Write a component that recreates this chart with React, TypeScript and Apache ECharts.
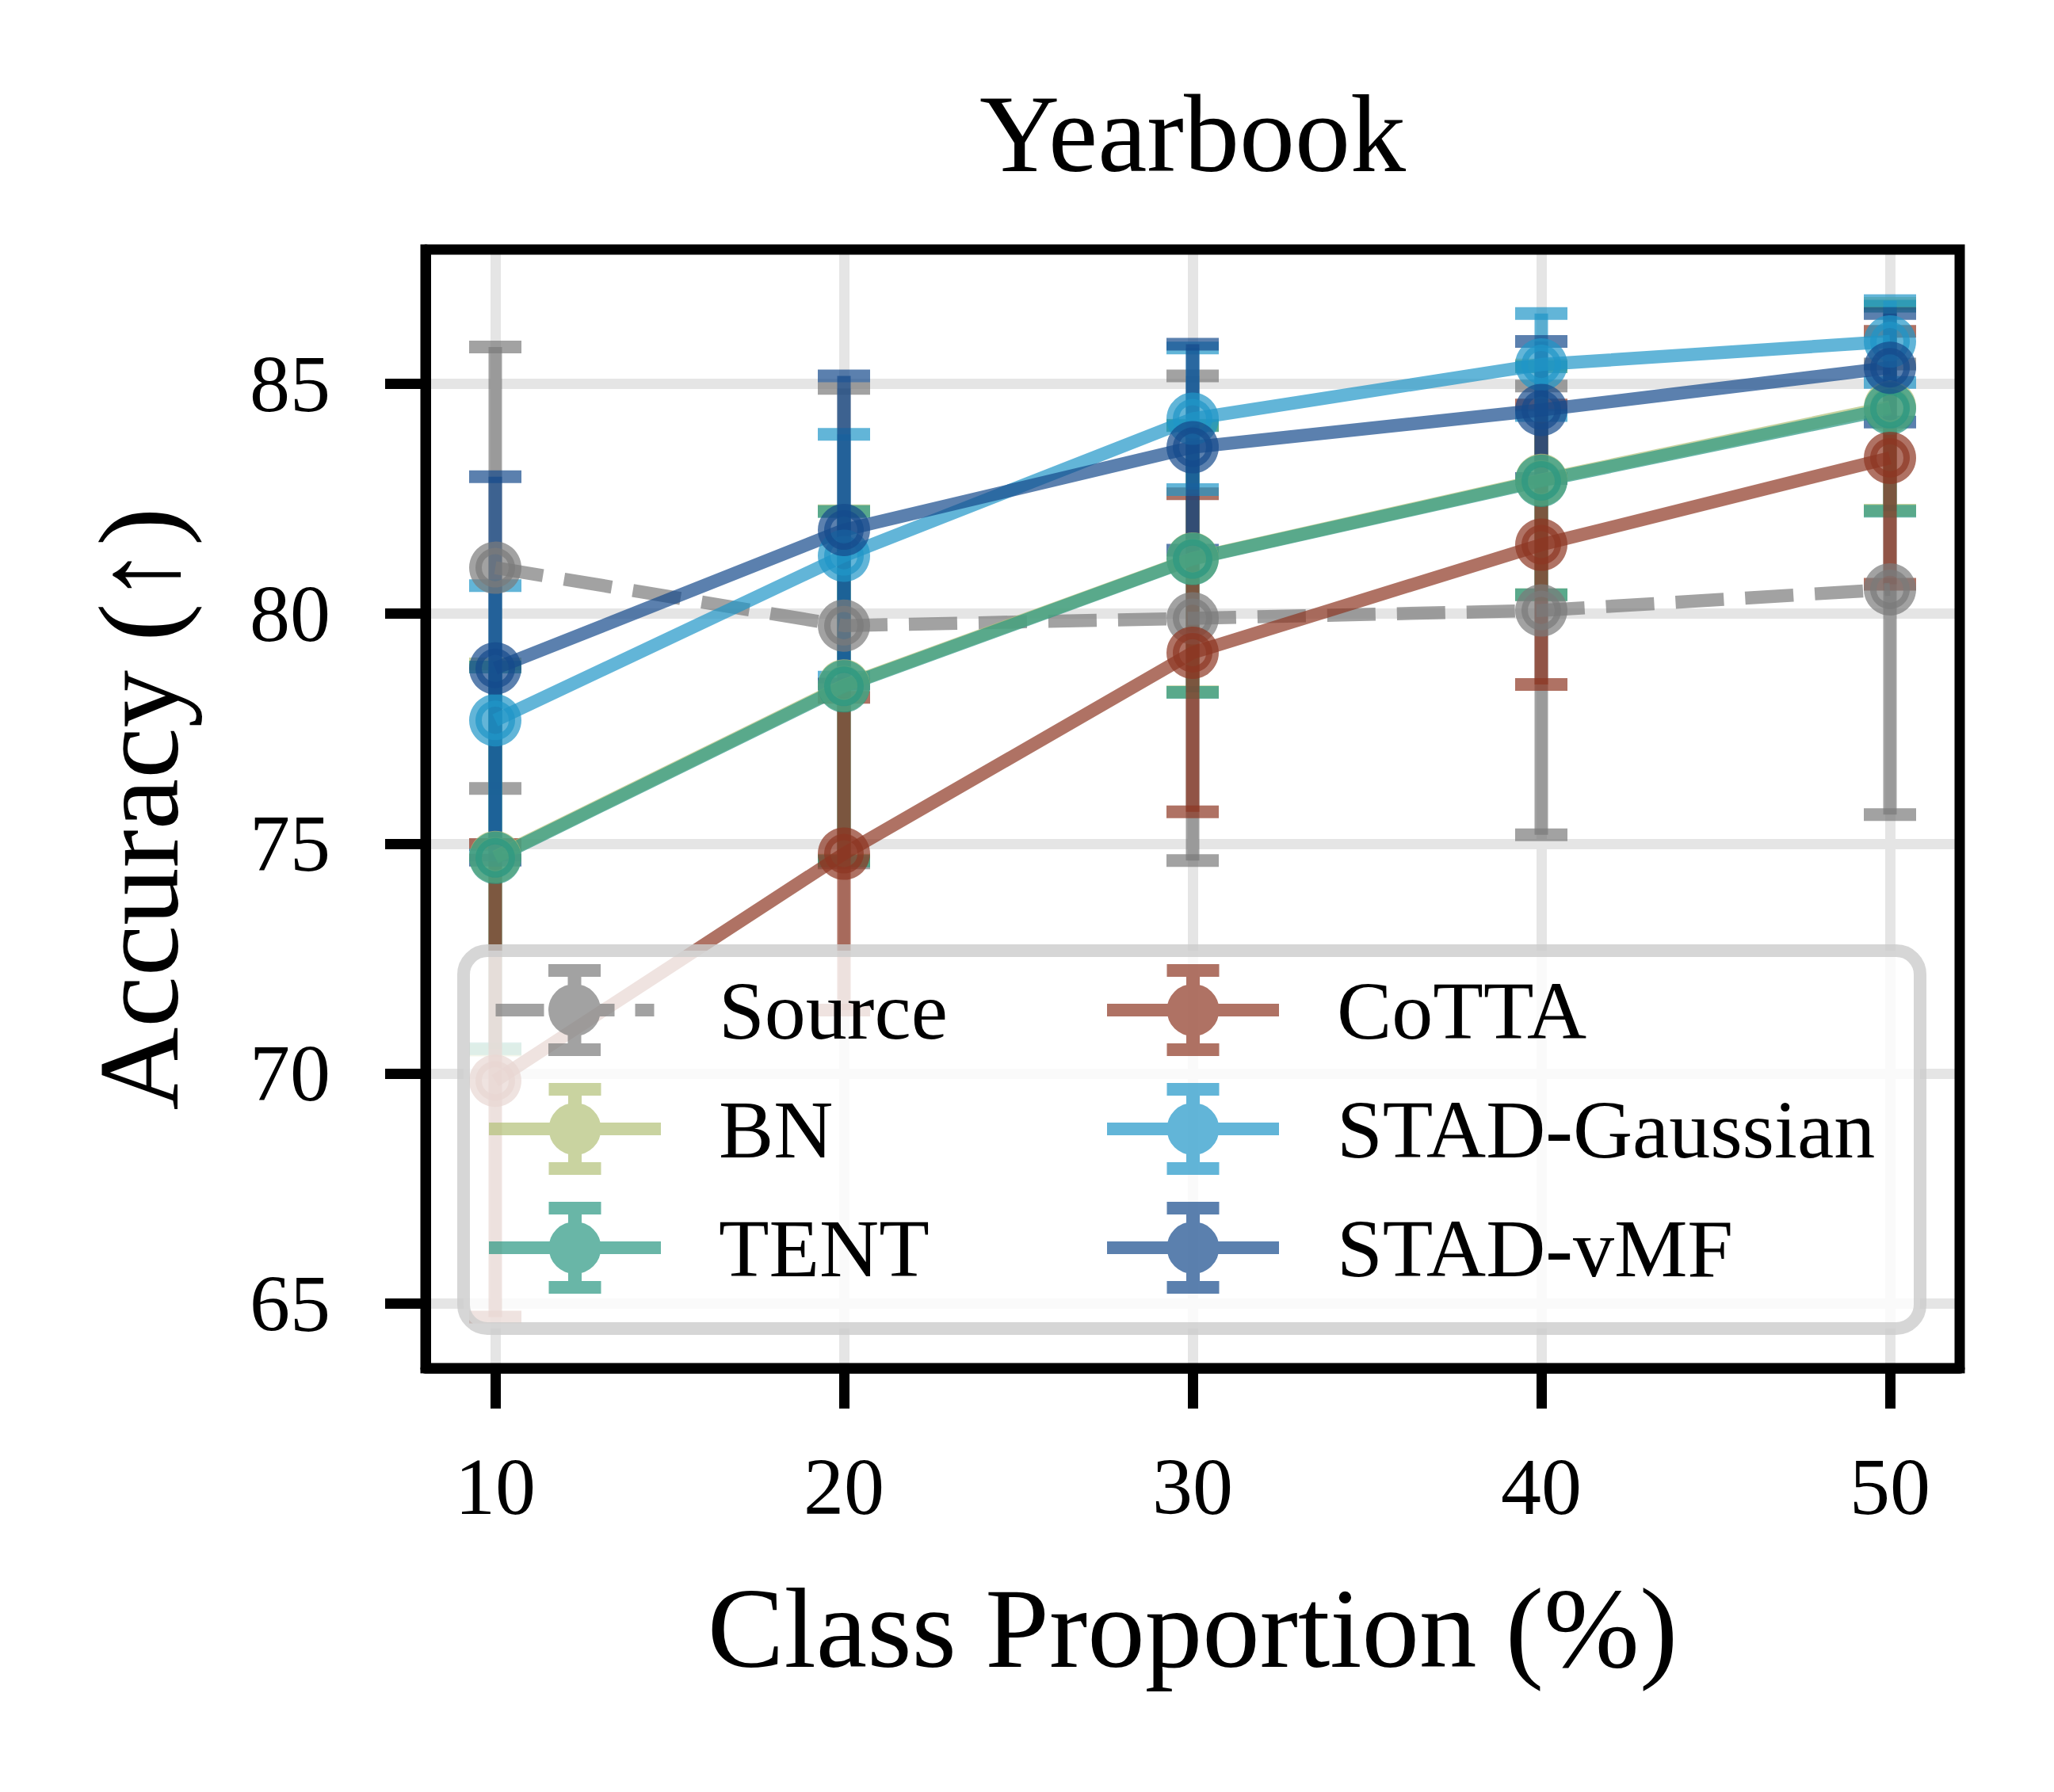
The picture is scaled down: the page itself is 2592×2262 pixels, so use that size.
import React, { useEffect, useRef } from "react";
import * as echarts from "echarts";

// ---------- data ----------
const classProportion = [10, 20, 30, 40, 50];
const xTicks = [10, 20, 30, 40, 50];
const yTicks = [65, 70, 75, 80, 85];
const methodNames = ["Source", "BN", "TENT", "CoTTA", "STAD-Gaussian", "STAD-vMF"];

const sourceMean = [81.0, 79.74, 79.9, 80.07, 80.53];
const sourceStd = [4.8, 5.16, 5.27, 4.88, 4.9];
const bnMean = [74.71, 78.44, 81.2, 82.91, 84.5];
const bnStd = [4.2, 3.8, 2.9, 2.5, 2.25];
const tentMean = [74.69, 78.42, 81.19, 82.89, 84.46];
const tentStd = [4.15, 3.8, 2.9, 2.48, 2.23];
const cottaMean = [69.84, 74.78, 79.15, 81.5, 83.39];
const cottaStd = [5.14, 3.4, 3.46, 3.04, 2.75];
const gaussMean = [77.68, 81.26, 84.24, 85.42, 85.92];
const gaussStd = [2.93, 2.64, 1.54, 1.11, 0.89];
const vmfMean = [78.81, 81.82, 83.62, 84.43, 85.35];
const vmfStd = [4.17, 3.35, 2.24, 1.49, 1.18];

const allMeans = [sourceMean, bnMean, tentMean, cottaMean, gaussMean, vmfMean];
const allStds = [sourceStd, bnStd, tentStd, cottaStd, gaussStd, vmfStd];

// ---------- styles ----------
const baseColors = ["#7a7a7a", "#b2c077", "#2a9781", "#8d3622", "#2095c7", "#154a8b"];
const ALPHA = 0.7;
const FONT = '"Liberation Serif", "DejaVu Serif", serif';

function rgba(hex: string, a: number) {
  const v = parseInt(hex.slice(1), 16);
  return `rgba(${(v >> 16) & 255},${(v >> 8) & 255},${v & 255},${a})`;
}

const circlePath = "M141.5 58 A33 33 0 1 1 75.5 58 A33 33 0 1 1 141.5 58 Z";
const barPath = "M100 8 H117 V108 H100 Z M75.5 0 H141.5 V16 H75.5 Z M75.5 100 H141.5 V116 H75.5 Z";
const solidIcon = "path://M0 50 H217 V66 H0 Z " + barPath + " " + circlePath;
const dashedIcon =
  "path://M9 50 H70 V66 H9 Z M97 50 H159 V66 H97 Z M185 50 H209 V66 H185 Z " + barPath + " " + circlePath;

function buildOption() {
  const series: any[] = [];
  methodNames.forEach((name, i) => {
    const c = rgba(baseColors[i], ALPHA);
    const errData = classProportion.map((x, k) => [x, allMeans[i][k] - allStds[i][k], allMeans[i][k] + allStds[i][k]]);
    series.push({
      type: "custom",
      name: name + " (error)",
      data: errData,
      encode: { x: 0, y: [1, 2] },
      silent: true,
      z: 2,
      renderItem: (params: any, api: any) => {
        const x = api.value(0);
        const pLo = api.coord([x, api.value(1)]);
        const pHi = api.coord([x, api.value(2)]);
        const hw = 33;
        return {
          type: "group",
          children: [
            { type: "line", shape: { x1: pLo[0], y1: pLo[1], x2: pHi[0], y2: pHi[1] }, style: { stroke: c, lineWidth: 17, lineCap: "butt" } },
            { type: "line", shape: { x1: pLo[0] - hw, y1: pLo[1], x2: pLo[0] + hw, y2: pLo[1] }, style: { stroke: c, lineWidth: 16, lineCap: "butt" } },
            { type: "line", shape: { x1: pHi[0] - hw, y1: pHi[1], x2: pHi[0] + hw, y2: pHi[1] }, style: { stroke: c, lineWidth: 16, lineCap: "butt" } },
          ],
        };
      },
    });
    series.push({
      type: "line",
      name,
      data: classProportion.map((x, k) => [x, allMeans[i][k]]),
      symbol: "circle",
      symbolSize: 50,
      showSymbol: true,
      silent: true,
      z: 3,
      lineStyle: { color: c, width: 16.5, type: i === 0 ? [61, 27] : "solid", cap: "butt" },
      itemStyle: { color: c, borderColor: c, borderWidth: 16 },
      emphasis: { disabled: true },
    });
  });

  const legendCommon = {
    orient: "vertical",
    itemWidth: 217,
    itemHeight: 116,
    itemGap: 34,
    padding: 0,
    z: 50,
    selectedMode: false,
    itemStyle: { borderWidth: 0 },
    textStyle: { fontSize: 104, fontFamily: FONT, color: "#000", padding: [0, 0, 0, 68] },
  };
  const legendItem = (name: string) => {
    const i = methodNames.indexOf(name);
    return {
      name,
      icon: i === 0 ? dashedIcon : solidIcon,
      itemStyle: { color: rgba(baseColors[i], ALPHA), borderWidth: 0 },
    };
  };

  return {
    animation: false,
    backgroundColor: "#ffffff",
    title: {
      text: "Yearbook",
      left: 1505,
      top: 98,
      padding: 0,
      textAlign: "center",
      textStyle: { fontSize: 140, fontWeight: "normal", fontFamily: FONT, color: "#000" },
    },
    grid: {
      left: 537,
      right: 119,
      top: 315,
      bottom: 535,
      show: true,
      borderColor: "#000",
      borderWidth: 13,
      backgroundColor: "transparent",
      z: 30,
    },
    xAxis: {
      type: "value",
      min: 8,
      max: 52,
      name: "Class Proportion (%)",
      nameLocation: "middle",
      nameGap: 255,
      nameTextStyle: { fontSize: 145, fontFamily: FONT, color: "#000" },
      axisLine: { show: true, lineStyle: { color: "#000", width: 13 } },
      axisTick: { show: true, customValues: xTicks, length: 51, inside: false, lineStyle: { color: "#000", width: 13 } },
      axisLabel: { customValues: xTicks, margin: 98, fontSize: 102, fontFamily: FONT, color: "#000" },
      splitLine: { show: true, lineStyle: { color: "#e5e5e5", width: 13 } },
    },
    yAxis: {
      type: "value",
      min: 63.59,
      max: 87.92,
      name: "Accuracy (↑)",
      nameLocation: "middle",
      nameRotate: 90,
      nameGap: 290,
      nameTextStyle: { fontSize: 145, fontFamily: FONT, color: "#000" },
      axisLine: { show: true, lineStyle: { color: "#000", width: 13 } },
      axisTick: { show: true, customValues: yTicks, length: 51, inside: false, lineStyle: { color: "#000", width: 13 } },
      axisLabel: { customValues: yTicks, margin: 120, fontSize: 102, fontFamily: FONT, color: "#000" },
      splitLine: { show: true, lineStyle: { color: "#e5e5e5", width: 13 } },
    },
    legend: [
      { ...legendCommon, left: 617, top: 1217, data: ["Source", "BN", "TENT"].map(legendItem) },
      { ...legendCommon, left: 1397, top: 1217, data: ["CoTTA", "STAD-Gaussian", "STAD-vMF"].map(legendItem) },
    ],
    graphic: {
      elements: [
        {
          type: "rect",
          silent: true,
          z: 49,
          shape: { x: 585, y: 1200, width: 1838, height: 477, r: 30 },
          style: { fill: "rgba(255,255,255,0.8)", stroke: "rgba(204,204,204,0.8)", lineWidth: 16 },
        },
      ],
    },
    series,
  };
}

export default function App() {
  const ref = useRef<HTMLDivElement>(null);
  useEffect(() => {
    document.body.style.margin = "0";
    if (!ref.current) return;
    const chart = echarts.init(ref.current, undefined, { renderer: "svg" });
    chart.setOption(buildOption() as any);
    return () => {
      chart.dispose();
    };
  }, []);
  return <div ref={ref} style={{ width: 2592, height: 2262, background: "#fff" }} />;
}
